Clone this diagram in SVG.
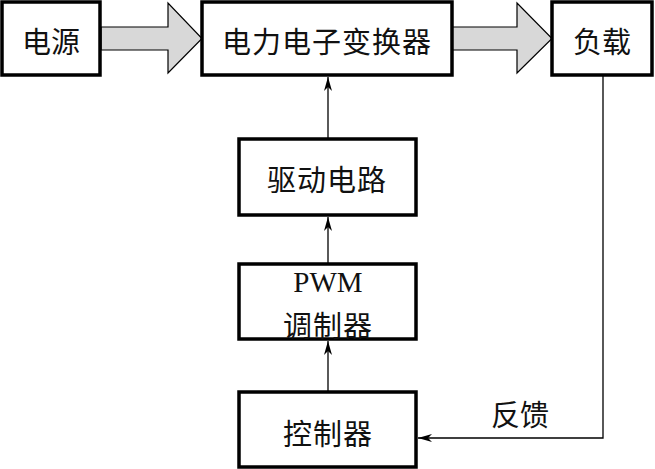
<svg xmlns="http://www.w3.org/2000/svg" width="655" height="469" viewBox="0 0 655 469">
<style>
.box{fill:#fff;stroke:#000;stroke-width:3.5}
.t{font-family:"Noto Sans CJK SC","Liberation Serif",sans-serif;font-size:29px;fill:#111;text-anchor:middle;dominant-baseline:central}
.pwm{font-family:"Liberation Serif",serif;font-size:29px;fill:#111;text-anchor:middle}
.big{fill:#d8d8d8;stroke:#000;stroke-width:1.2;stroke-linejoin:miter}
.ln{fill:none;stroke:#000;stroke-width:1.3}
</style>
<defs>
<marker id="ah" viewBox="0 0 14 8" refX="14" refY="4" markerWidth="14" markerHeight="8" markerUnits="userSpaceOnUse" orient="auto">
<path d="M0,0 L14,4 L0,8 L4,4 Z" fill="#000"/>
</marker>
</defs>
<rect width="655" height="469" fill="#fff"/>
<g id="connectors">
<path class="big" d="M101,27 H168 V3 L202,38.5 L168,73 V50 H101 Z"/>
<path class="big" d="M452,27 H517 V3 L552,38.5 L517,73 V50 H452 Z"/>
<line class="ln" x1="328" y1="139" x2="328" y2="77" marker-end="url(#ah)"/>
<line class="ln" x1="328" y1="264" x2="328" y2="217" marker-end="url(#ah)"/>
<line class="ln" x1="328" y1="392" x2="328" y2="341" marker-end="url(#ah)"/>
<polyline class="ln" points="603,75 603,438 418,438" marker-end="url(#ah)"/>
<text class="t" x="520" y="413">反馈</text>
</g>
<g id="power">
<rect class="box" x="2" y="2" width="98" height="73"/>
<text class="t" x="51" y="40">电源</text>
</g>
<g id="converter">
<rect class="box" x="202" y="2" width="250" height="73"/>
<text class="t" x="327" y="40" letter-spacing="1">电力电子变换器</text>
</g>
<g id="load">
<rect class="box" x="552" y="2" width="100" height="73"/>
<text class="t" x="602" y="40">负载</text>
</g>
<g id="driver">
<rect class="box" x="239" y="139" width="177" height="76"/>
<text class="t" x="327" y="178" letter-spacing="1">驱动电路</text>
</g>
<g id="pwm">
<rect class="box" x="239" y="264" width="177" height="75"/>
<text class="pwm" x="328" y="292">PWM</text>
<text class="t" x="328" y="324" letter-spacing="1">调制器</text>
</g>
<g id="controller">
<rect class="box" x="239" y="392" width="177" height="75"/>
<text class="t" x="328" y="432" letter-spacing="1">控制器</text>
</g>
</svg>
